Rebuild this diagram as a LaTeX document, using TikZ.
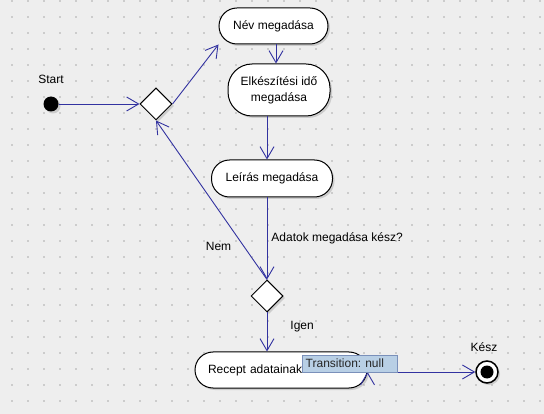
\documentclass[tikz,border=0pt]{standalone}
\usepackage{fontspec}
\setmainfont{Liberation Sans}
\usetikzlibrary{positioning, arrows.meta, shapes.geometric, shadows}

\definecolor{flowblue}{RGB}{50,50,160}
\definecolor{canvasgray}{RGB}{238,238,238}
\definecolor{dotgray}{RGB}{204,204,204}
\definecolor{tipblue}{RGB}{184,207,229}
\definecolor{tipborder}{RGB}{122,144,186}

\tikzset{
  softshadow/.style={drop shadow={shadow xshift=2pt, shadow yshift=-2pt, opacity=.3}},
  act/.style={rectangle, rounded corners=18pt, draw, line width=1pt, fill=white, softshadow},
  choice/.style={diamond, draw, line width=1pt, fill=white, minimum width=32pt, minimum height=32pt, inner sep=0pt, softshadow},
  flow/.style={->, draw=flowblue, line width=.9pt},
  lbl/.style={inner sep=2pt}
}

\begin{document}
\begin{tikzpicture}[x=1pt, y=-1pt, >={Straight Barb[length=12pt,width=14pt]},
  font=\fontsize{12}{16}\selectfont\frenchspacing]

  % Hatter es pontracs
  \fill[canvasgray] (0,0) rectangle (544,414);
  \useasboundingbox (0,0) rectangle (544,414);
  \foreach \i in {0,...,33}
    \foreach \j in {0,...,25}
      \fill[dotgray] (11+16*\i, 16*\j) rectangle ++(2,2);

  % Kezdo es vegallapot
  \node[circle, fill=black, minimum size=15pt, inner sep=0pt, softshadow] (start) at (51,104) {};
  \node[lbl, above=10pt of start] (startlbl) {Start};
  \node[circle, draw, line width=1.5pt, fill=white, minimum size=22pt, inner sep=0pt, softshadow] (end) at (487,372) {};
  \node[circle, fill=black, minimum size=13pt, inner sep=0pt] (endcore) at (end) {};
  \node[lbl, above=6pt of end, xshift=-3pt] (endlbl) {Kész};

  % Tevekenysegek
  \node[act, minimum width=109pt, minimum height=36pt] (nev) at (273.5,26) {Név megadása};
  \node[act, rounded corners=24pt, minimum width=102pt, minimum height=52pt, align=center] (elk) at (279,90) {Elkészítési idő\\megadása};
  \node[act, minimum width=121pt, minimum height=37pt] (leiras) at (272,178.5) {Leírás megadása};
  \node[act, minimum width=172pt, minimum height=36pt, text width=146pt, align=left] (recept) at (281,370) {Recept adatainak};

  % Dontesek
  \node[choice] (d1) at (156,104) {};
  \node[choice] (d2) at (267,296) {};

  % Atmenetek
  \path[flow]
  (start) edge (d1)
  (d1.east) edge (nev.south west)
  ([xshift=2.5pt]nev.south) edge ([xshift=2.5pt]nev.south |- elk.north)
  (elk.south -| d2) edge (leiras.north -| d2)
  (leiras.south -| d2) edge node[lbl, right, xshift=2pt, text=black] (lbladatok) {Adatok megadása kész?} (d2.north)
  (d2.north) edge node[lbl, pos=.21, left, xshift=-10pt, text=black] (lblnem) {Nem} (d1.south)
  (d2.south) edge node[lbl, pos=.35, right, xshift=21pt, text=black] (lbligen) {Igen} (d2 |- recept.north)
  (recept.east |- end) edge (end);

  % Buborek
  \node[draw=tipborder, fill=tipblue, text=black!85, anchor=west, text width=88pt, inner xsep=3.5pt, minimum height=17pt, inner ysep=1pt, align=left] (tooltip) at (302,363.5) {Transition: null};
\end{tikzpicture}
\end{document}
